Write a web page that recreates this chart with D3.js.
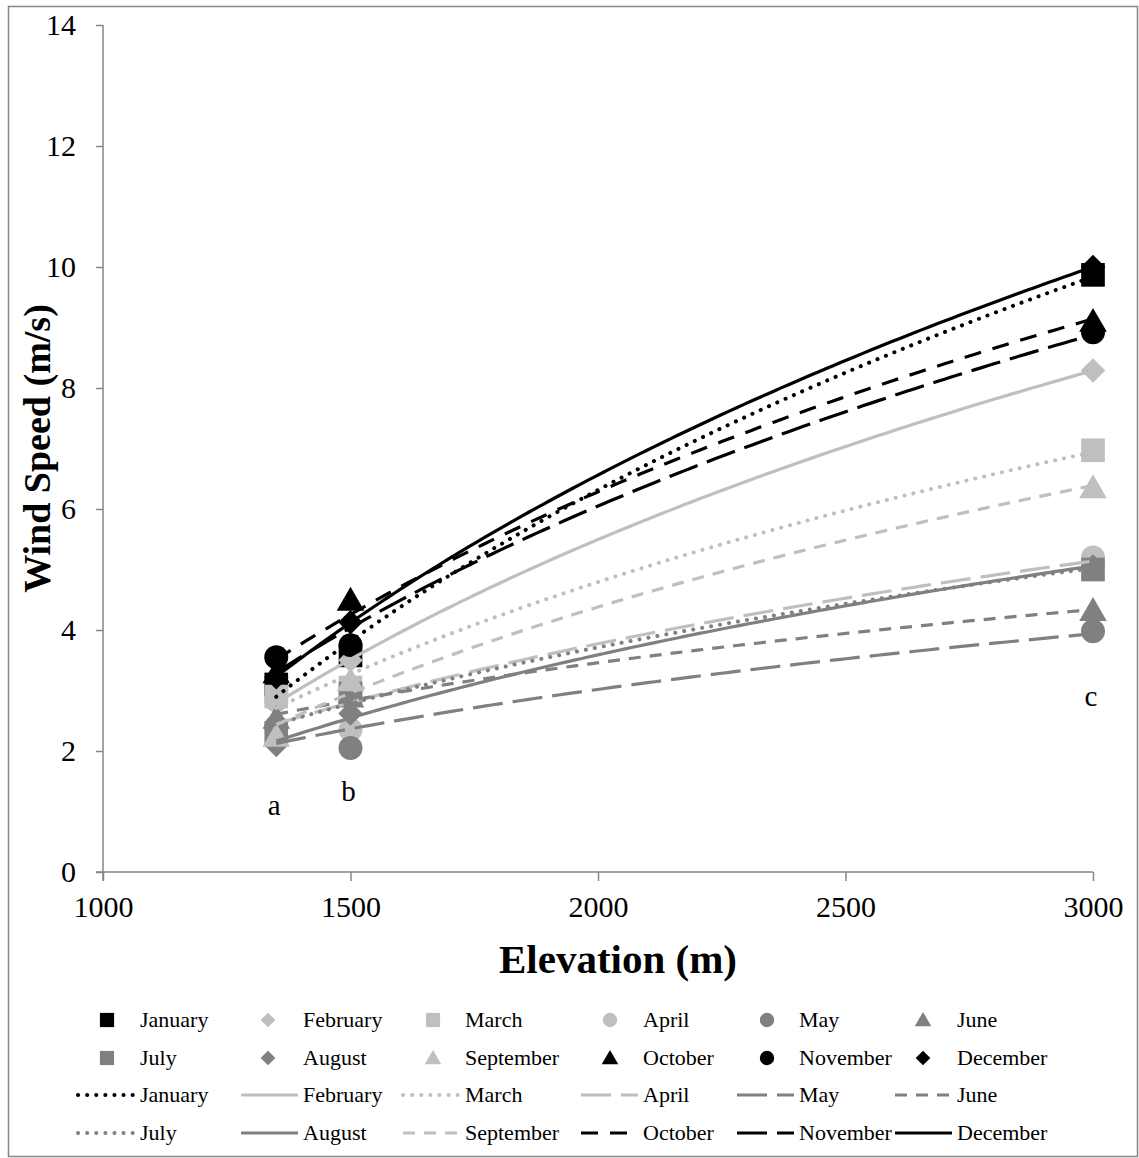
<!DOCTYPE html>
<html lang="en">
<head>
<meta charset="utf-8">
<title>Wind speed vs elevation</title>
<style>
  body { margin: 0; background: #fff; font-family: "Liberation Serif", "Times New Roman", serif; }
  svg text { fill: #000; }
  .axis path, .axis line { stroke: #868686; stroke-width: 1.5; }
  .axis text { font-family: "Liberation Serif", serif; font-size: 30px; }
</style>
</head>
<body>
<div id="chart"></div>
<script src="https://cdn.jsdelivr.net/npm/d3@7"></script>
<script>
// ---- data ----
var months = ["January", "February", "March", "April", "May", "June",
              "July", "August", "September", "October", "November", "December"];
var elevations = [1350, 1500, 3000];

var january   = [3.10, 3.58, 9.87];
var february  = [2.80, 3.50, 8.29];
var march     = [2.90, 3.05, 6.97];
var april     = [2.84, 2.35, 5.20];
var may       = [2.40, 2.05, 3.98];
var june      = [2.55, 2.90, 4.33];
var july      = [2.30, 2.95, 5.00];
var august    = [2.10, 2.62, 5.05];
var september = [2.25, 3.17, 6.36];
var october   = [3.30, 4.50, 9.11];
var november  = [3.55, 3.75, 8.92];
var december  = [3.22, 4.13, 10.00];

var speeds = [january, february, march, april, may, june,
              july, august, september, october, november, december];

var xTicks = [1000, 1500, 2000, 2500, 3000];
var yTicks = [0, 2, 4, 6, 8, 10, 12, 14];
var letters = [{t: "a", x: 1350, y: 0.95}, {t: "b", x: 1500, y: 1.18}, {t: "c", x: 3000, y: 2.75}];

// ---- styles ----
var black = "#000000", light = "#bfbfbf", dark = "#808080";
var colors  = [black, light, light, light, dark, dark, dark, dark, light, black, black, black];
var shapes  = ["square", "diamond", "square", "circle", "circle", "triangle",
               "square", "diamond", "triangle", "triangle", "circle", "diamond"];
var dashes  = ["0.1 9", null, "0.1 9", "30 10", "30 10", "12 9",
               "0.1 9", null, "12 9", "17 12", "30 10", null];
var caps    = ["round", "butt", "round", "butt", "butt", "butt",
               "round", "butt", "butt", "butt", "butt", "butt"];

var W = 1139, H = 1158;
var svg = d3.select("#chart").append("svg").attr("width", W).attr("height", H);

// outer frame
svg.append("rect").attr("x", 8.5).attr("y", 6.5).attr("width", 1129).attr("height", 1150)
  .attr("fill", "none").attr("stroke", "#868686").attr("stroke-width", 1.5);

var plotLeft = 103, plotRight = 1093, plotTop = 25, plotBottom = 872;
var x = d3.scaleLinear().domain([1000, 3000]).range([plotLeft, plotRight]);
var y = d3.scaleLinear().domain([0, 14]).range([plotBottom, plotTop]);

// axes
var yAxis = svg.append("g").attr("class", "axis").attr("transform", "translate(" + plotLeft + ",0)")
  .call(d3.axisLeft(y).tickValues(yTicks).tickFormat(d3.format("d")).tickSizeOuter(0).tickSize(7).tickPadding(20));
var xAxis = svg.append("g").attr("class", "axis").attr("transform", "translate(0," + plotBottom + ")")
  .call(d3.axisBottom(x).tickValues(xTicks).tickFormat(d3.format("d")).tickSizeOuter(0).tickSize(9).tickPadding(15));
xAxis.select(".domain").attr("d", "M" + (plotLeft - 7) + ",0H" + plotRight);
yAxis.select(".domain").attr("d", "M0," + 9 + "V" + (plotTop - plotBottom)).attr("transform", "translate(0," + plotBottom + ")");

svg.append("text").attr("x", (plotLeft + plotRight) / 2 + 20).attr("y", 973).attr("text-anchor", "middle")
  .style("font-size", "41px").style("font-weight", "bold").text("Elevation (m)");
svg.append("text").attr("transform", "translate(50," + ((plotTop + plotBottom) / 2) + ") rotate(-90)")
  .attr("text-anchor", "middle").style("font-size", "38px").style("font-weight", "bold")
  .text("Wind Speed (m/s)");

// marker symbols (diamond = square turned 45 degrees)
function symbolFor(s, size) {
  var t = {square: d3.symbolSquare, diamond: d3.symbolSquare, circle: d3.symbolCircle, triangle: d3.symbolTriangle}[s];
  return d3.symbol().type(t).size(size)();
}
function markerSize(s) {
  return {square: 560, diamond: 300, circle: 450, triangle: 330}[s];
}
function markerTransform(s, cx, cy) {
  var t = "translate(" + cx + "," + (cy + (s === "triangle" ? 3 : 0)) + ")";
  return s === "diamond" ? t + " rotate(45)" : t;
}

var pts = svg.append("g");
speeds.forEach(function(vals, i) {
  pts.selectAll(null).data(vals).enter().append("path")
    .attr("transform", function(d, j) { return markerTransform(shapes[i], x(elevations[j]), y(d)); })
    .attr("d", symbolFor(shapes[i], markerSize(shapes[i])))
    .attr("fill", colors[i]);
});

// logarithmic trendlines y = a * ln(x) + b, least squares
function logFit(xs, ys) {
  var lx = xs.map(Math.log);
  var mx = d3.mean(lx), my = d3.mean(ys);
  var a = d3.sum(lx, function(v, k) { return (v - mx) * (ys[k] - my); }) /
          d3.sum(lx, function(v) { return (v - mx) * (v - mx); });
  var b = my - a * mx;
  return function(v) { return a * Math.log(v) + b; };
}
var xs = d3.range(1350, 3001, 15);
var line = d3.line().x(function(d) { return x(d[0]); }).y(function(d) { return y(d[1]); });
var lines = svg.append("g");
speeds.forEach(function(vals, i) {
  var f = logFit(elevations, vals);
  lines.append("path").datum(xs.map(function(v) { return [v, f(v)]; }))
    .attr("d", line).attr("fill", "none")
    .attr("stroke", colors[i]).attr("stroke-width", caps[i] === "round" ? 4 : 3.2)
    .attr("stroke-dasharray", dashes[i]).attr("stroke-linecap", caps[i]);
});

// letters
svg.selectAll(".letter").data(letters).enter().append("text")
  .attr("x", function(d) { return x(d.x) - 2; }).attr("y", function(d) { return y(d.y); })
  .attr("text-anchor", "middle").style("font-size", "29px").text(function(d) { return d.t; });

// legend
var colMarkerX = [107, 268, 433, 610, 767, 923];
var colTextX = [140, 303, 465, 643, 799, 957];
var rowY = [1020, 1058, 1095, 1133];
var leg = svg.append("g");
months.forEach(function(m, i) {
  var c = i % 6, r = Math.floor(i / 6);
  leg.append("path")
    .attr("transform", markerTransform(shapes[i], colMarkerX[c], rowY[r] - (shapes[i] === "triangle" ? 1.5 : 0)))
    .attr("d", symbolFor(shapes[i], markerSize(shapes[i]) * 0.36)).attr("fill", colors[i]);
  leg.append("text").attr("x", colTextX[c]).attr("y", rowY[r] + 7).style("font-size", "22px").text(m);
  var r2 = r + 2;
  leg.append("line").attr("x1", colTextX[c] - 62).attr("x2", colTextX[c] - 5)
    .attr("y1", rowY[r2]).attr("y2", rowY[r2])
    .attr("stroke", colors[i]).attr("stroke-width", caps[i] === "round" ? 4 : 3.2)
    .attr("stroke-dasharray", dashes[i]).attr("stroke-linecap", caps[i]);
  leg.append("text").attr("x", colTextX[c]).attr("y", rowY[r2] + 7).style("font-size", "22px").text(m);
});
</script>
</body>
</html>
